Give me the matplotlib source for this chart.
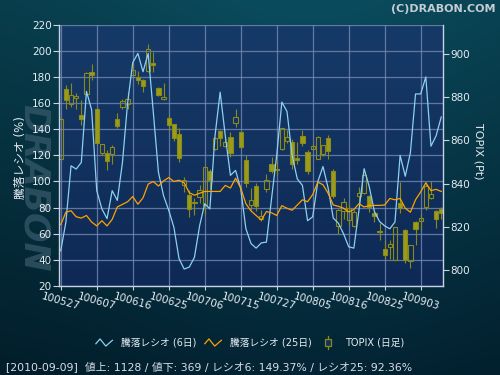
import numpy as np
import matplotlib
matplotlib.use("Agg")
import matplotlib.pyplot as plt
from matplotlib.lines import Line2D
from matplotlib.patches import Rectangle
from matplotlib.legend_handler import HandlerBase

plt.rcParams['font.family'] = ['DejaVu Sans', 'Noto Sans CJK JP']

# x tick labels, one every 7 trading days
tick_labels = ["100527", "100607", "100616", "100625", "100706", "100715",
               "100727", "100805", "100816", "100825", "100903"]

# advance/decline ratio, 6 day (%)
ratio6 = [47, 69, 112, 109.5, 114.6, 169, 155, 93, 79, 71.6,
          93, 85.5, 114.6, 160, 191, 198, 184, 198, 153, 107,
          89, 78, 65, 41, 33, 34.5, 42, 66, 83, 79,
          135, 168.4, 135, 104.7, 108.5, 94.5, 64, 52.5, 49, 53,
          53.6, 87, 120, 160.8, 153.6, 120, 102, 97, 70, 73,
          100, 111.5, 95, 72, 68, 60, 50, 49, 78, 109.8,
          96, 77, 69.4, 66, 63.8, 69, 120, 104, 122, 167,
          167, 180, 127, 135, 149.37]

# advance/decline ratio, 25 day (%)
ratio25 = [67, 76.5, 77.6, 73, 72, 74, 69, 66, 70, 66,
           71, 80.5, 82.5, 84.5, 88.5, 82.6, 87.5, 98, 100, 96.5,
           100.5, 103, 100, 101, 99, 91.4, 89.5, 91, 92.4, 92.4,
           92.4, 92.4, 97, 95, 102.5, 95, 83, 77.5, 74, 70.5,
           77, 76, 74, 81.5, 79.5, 78, 82, 86, 84.5, 90,
           99.5, 97.5, 91, 82, 81, 79.5, 76.7, 78.5, 83, 80.5,
           81.5, 81.7, 81.7, 82, 87, 86, 87, 79.5, 76.5, 86,
           92, 99, 93, 94, 92.36]

# TOPIX daily candles (Pt)
topix_open = [851.5, 883.8, 876.6, 879.4, 871.5, 881.5, 891.5, 874.3, 854.3, 854.3,
              853.4, 869.7, 875.2, 876.6, 890.3, 889.2, 887.7, 891.8, 895.8, 884.1,
              878.8, 870.3, 867.4, 862.8, 839.2, 834.9, 831.2, 833.8, 830.0, 845.7,
              856.1, 864.3, 857.4, 861.5, 868.0, 863.8, 850.8, 830.2, 838.9, 823.6,
              837.4, 849.0, 846.8, 855.8, 859.5, 859.2, 851.8, 862.0, 854.6, 856.1,
              851.5, 853.5, 861.1, 845.8, 820.4, 827.2, 823.3, 820.5, 834.1, 835.4,
              834.3, 826.6, 818.1, 809.7, 810.8, 804.6, 830.8, 818.4, 804.1, 822.3,
              822.6, 829.2, 833.5, 827.5, 828.2]
topix_high = [870.5, 885.4, 886.4, 882.0, 878.4, 891.5, 895.2, 874.9, 858.4, 855.4,
              857.7, 872.6, 878.8, 882.3, 895.4, 891.8, 888.1, 904.6, 900.8, 884.6,
              886.4, 871.8, 867.7, 865.4, 843.1, 836.9, 833.1, 839.2, 847.7, 846.9,
              861.5, 864.6, 862.0, 863.8, 874.3, 863.8, 853.1, 837.9, 840.2, 827.9,
              844.5, 852.4, 850.5, 865.7, 864.6, 860.4, 859.2, 864.6, 855.4, 858.4,
              861.8, 858.0, 862.3, 846.9, 828.4, 833.1, 830.5, 828.0, 838.4, 844.6,
              834.6, 827.7, 821.8, 813.8, 813.8, 819.8, 840.8, 819.2, 811.5, 822.6,
              826.1, 840.8, 841.0, 828.0, 829.2]
topix_low = [851.0, 874.3, 875.4, 874.3, 867.2, 880.8, 887.7, 858.4, 853.1, 846.4,
             848.8, 865.4, 874.6, 874.6, 889.5, 886.1, 882.3, 891.5, 891.5, 880.3,
             878.4, 864.6, 859.5, 850.0, 836.1, 824.6, 825.7, 830.8, 825.4, 837.7,
             855.4, 857.4, 856.9, 852.3, 866.1, 856.4, 838.4, 827.9, 827.1, 822.5,
             835.9, 844.7, 844.1, 855.4, 858.9, 846.9, 848.8, 857.4, 844.6, 855.4,
             851.2, 852.6, 851.2, 833.1, 816.9, 823.8, 821.0, 820.0, 830.8, 835.1,
             826.9, 822.3, 813.8, 805.1, 805.1, 804.6, 826.6, 803.5, 800.8, 811.8,
             818.4, 827.7, 832.8, 819.5, 823.8]
topix_close = [870.0, 878.4, 880.8, 880.3, 870.0, 890.8, 890.3, 858.9, 858.4, 850.3,
               856.9, 866.4, 878.3, 878.9, 892.3, 887.7, 884.9, 902.3, 894.6, 880.8,
               879.8, 867.2, 860.8, 852.0, 841.5, 828.4, 831.6, 836.9, 847.7, 841.5,
               861.1, 861.2, 859.2, 854.3, 870.6, 856.8, 840.4, 832.5, 829.4, 825.2,
               841.6, 846.0, 846.1, 865.7, 861.5, 849.2, 850.8, 858.9, 846.0, 857.4,
               861.5, 857.7, 854.9, 834.3, 827.7, 831.5, 828.6, 827.0, 835.7, 843.8,
               829.2, 825.1, 817.4, 807.2, 812.0, 819.8, 828.9, 804.6, 811.5, 819.2,
               824.1, 838.9, 835.1, 823.5, 826.6]

status = "[2010-09-09]  値上: 1128 / 値下: 369 / レシオ6: 149.37% / レシオ25: 92.36%"

C_R6 = "#8dd0f0"
C_R25 = "#ffa200"
C_FILL = "#9c9c1c"
C_EDGE = "#8a8a18"
C_TXT = "#e6ecf2"
C_AX = "#c8d2e2"


class HandlerZigzag(HandlerBase):
    def create_artists(self, legend, orig_handle, xdescent, ydescent,
                       width, height, fontsize, trans):
        xs = np.array([0, 0.25, 0.6, 1.0]) * width - xdescent
        ys = np.array([0.3, 1.0, -0.05, 0.8]) * height - ydescent
        ln = Line2D(xs, ys, color=orig_handle.get_color(), lw=0.9)
        ln.set_transform(trans)
        return [ln]


class HandlerCandle(HandlerBase):
    def create_artists(self, legend, orig_handle, xdescent, ydescent,
                       width, height, fontsize, trans):
        cx = width / 2 - xdescent
        wick = Line2D([cx, cx], [-0.45 * height - ydescent, 1.45 * height - ydescent],
                      color=C_EDGE, lw=0.9)
        wick.set_transform(trans)
        w = 0.35 * width
        body = Rectangle((cx - w / 2, 0.0 * height - ydescent), w, height,
                         facecolor="#132f5e", edgecolor=C_EDGE, lw=0.9)
        body.set_transform(trans)
        return [wick, body]


fig = plt.figure(figsize=(5, 3.75), dpi=100)

# figure background gradient
bg = fig.add_axes([0, 0, 1, 1], zorder=-10)
gy = np.linspace(0, 1, 200)[:, None, None]
gx = np.linspace(0, 1, 300)[None, :, None]
c_top = np.array([10, 76, 94]) / 255
c_bot = np.array([3, 36, 52]) / 255
img = c_top * (1 - gy) + c_bot * gy
img = img * (0.78 + 0.22 * np.exp(-((gx - 0.62) / 0.45) ** 2))
bg.imshow(np.clip(img, 0, 1), extent=[0, 1, 0, 1], aspect="auto")
bg.axis("off")

pos = [0.1174, 0.2373, 0.7692, 0.6968]
xlim = (-0.4, 74.4)
n = len(topix_close)
x = np.arange(n)
tick_pos = np.arange(len(tick_labels)) * 7

# plot area gradient + grid
bgp = fig.add_axes(pos, zorder=-5)
py = np.linspace(0, 1, 100)[:, None, None]
p_top = np.array([22, 58, 104]) / 255
p_bot = np.array([14, 41, 85]) / 255
bgp.imshow(p_top * (1 - py) + p_bot * py, extent=[xlim[0], xlim[1], 20, 220],
           aspect="auto")
bgp.set_xlim(xlim)
bgp.set_ylim(20, 220)
bgp.set_xticks(tick_pos)
bgp.set_yticks(range(20, 221, 20))
bgp.grid(color="#7c8fb8", lw=0.9, alpha=0.75)
bgp.tick_params(length=0, labelbottom=False, labelleft=False)
for s in bgp.spines.values():
    s.set_visible(False)

# watermark
fig.text(0.068, 0.5, "DRABON", rotation=-90, fontsize=25, weight="bold",
         style="italic", color="#36596a", alpha=0.75, ha="center", va="center",
         zorder=-4)

ax = fig.add_axes(pos, zorder=3)
ax.patch.set_visible(False)
ax2 = ax.twinx()
ax2.set_zorder(2)
ax2.patch.set_visible(False)

# candles
o = np.array(topix_open)
h = np.array(topix_high)
lo = np.array(topix_low)
c = np.array(topix_close)
up = c >= o
b_lo = np.minimum(o, c)
b_hi = np.maximum(o, c)
b_h = np.maximum(b_hi - b_lo, 0.4)
ax2.vlines(x, b_hi, h, color=C_EDGE, lw=0.8)
ax2.vlines(x, lo, b_lo, color=C_EDGE, lw=0.8)
ax2.bar(x[up], b_h[up], bottom=b_lo[up], width=0.82, facecolor="none",
        edgecolor=C_EDGE, lw=0.8)
ax2.bar(x[~up], b_h[~up], bottom=b_lo[~up], width=0.82, facecolor=C_FILL,
        edgecolor=C_EDGE, lw=0.8)

# ratio lines
l6, = ax.plot(x, ratio6, color=C_R6, lw=0.9)
l25, = ax.plot(x, ratio25, color=C_R25, lw=0.9)

ax.set_xlim(xlim)
ax.set_ylim(20, 220)
ax2.set_ylim(792.7, 913.3)
ax.set_yticks(range(20, 221, 20))
ax2.set_yticks(range(800, 901, 20))
ax.set_xticks(tick_pos)
ax.set_xticklabels(tick_labels, rotation=-16, ha="center")

ax.tick_params(axis="y", direction="out", length=4, width=0.8, color=C_AX,
               labelsize=7.5, labelcolor=C_TXT, pad=1)
ax.tick_params(axis="x", direction="out", length=3, width=0.8, color=C_AX,
               labelsize=7.5, labelcolor=C_TXT, pad=1)
ax2.tick_params(axis="y", direction="out", length=4, width=0.8, color=C_AX,
                labelsize=7.5, labelcolor=C_TXT, pad=1)

for name, s in ax.spines.items():
    s.set_visible(name in ("left", "bottom"))
    s.set_color(C_AX)
    s.set_linewidth(1)
for name, s in ax2.spines.items():
    s.set_visible(name == "right")
    s.set_color(C_AX)
    s.set_linewidth(1)

fig.text(0.04, 0.58, "騰落レシオ (%)", rotation=90, ha="center", va="center",
         fontsize=8.5, color=C_TXT)
fig.text(0.956, 0.597, "TOPIX (Pt)", rotation=270, ha="center", va="center",
         fontsize=8, color=C_TXT)
fig.text(0.992, 0.99, "(C)DRABON.COM", ha="right", va="top", fontsize=8,
         weight="bold", color="#c4ccd4")

candle_handle = Rectangle((0, 0), 1, 1)
leg = fig.legend([l6, l25, candle_handle],
                 ["騰落レシオ (6日)", "騰落レシオ (25日)", "TOPIX (日足)"],
                 handler_map={Line2D: HandlerZigzag(), Rectangle: HandlerCandle()},
                 loc="center", bbox_to_anchor=(0.5, 0.086), ncol=3, frameon=False,
                 fontsize=7, handlelength=1.7, handletextpad=0.85,
                 columnspacing=0.9, labelcolor=C_TXT)

fig.text(0.012, 0.022, status, ha="left", va="center", fontsize=7.8,
         color="#d8dee6")

fig.savefig("out.png", dpi=100)
